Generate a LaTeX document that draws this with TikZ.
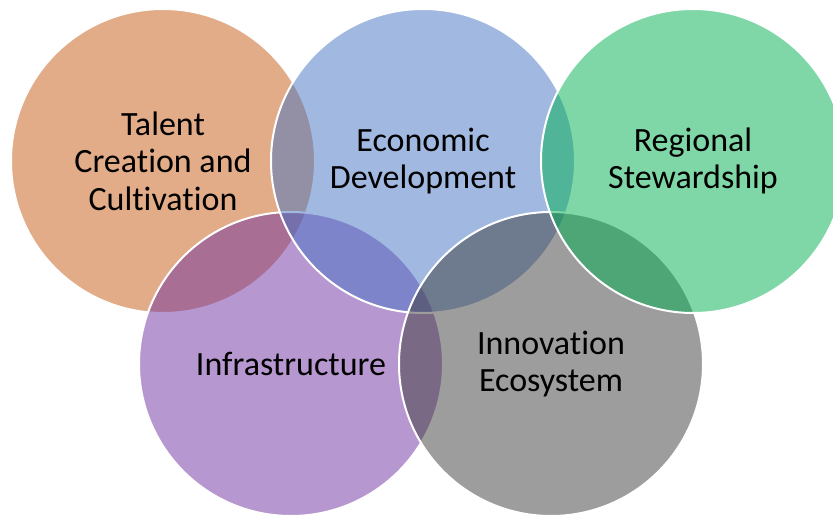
\documentclass[tikz,border=0pt]{standalone}
\usepackage{fontspec}
\setmainfont{Carlito}[Ligatures=NoCommon]
\definecolor{talentc}{RGB}{197,90,17}
\definecolor{econc}{RGB}{68,114,196}
\definecolor{regionc}{RGB}{0,176,80}
\definecolor{infrac}{RGB}{112,48,160}
\definecolor{innovc}{RGB}{60,60,60}
\begin{document}
\begin{tikzpicture}[x=1pt,y=1pt,
    venn/.style={circle,minimum size=304pt,inner sep=0pt,draw=white,
      line width=2pt,fill opacity=0.5,text opacity=1,align=center,
      font=\fontsize{34}{37.5}\selectfont}]
    \useasboundingbox (0,0) rectangle (833,516);
    % drawn back to front
    \node[venn,fill=talentc] (talent) at (163,355) {Talent\\Creation and\\Cultivation};
    \node[venn,fill=infrac] (infra) at (291,152) {Infrastructure};
    \node[venn,fill=econc] (econ) at (423,355) {Economic\\Development};
    \node[venn,fill=innovc] (innov) at (551,152) {Innovation\\Ecosystem};
    \node[venn,fill=regionc] (region) at (693,355) {Regional\\Stewardship};
  \end{tikzpicture}
\end{document}
